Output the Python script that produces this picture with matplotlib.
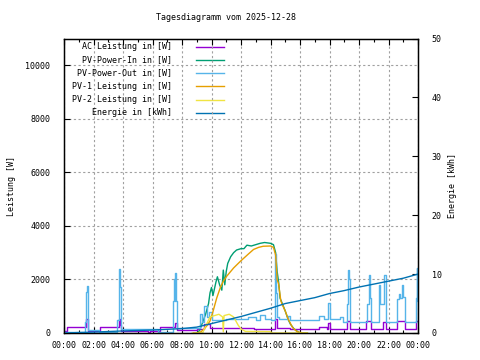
import numpy as np
import matplotlib
matplotlib.use('Agg')
import matplotlib.pyplot as plt
from matplotlib.lines import Line2D
from matplotlib.ticker import MultipleLocator

plt.rcParams['font.family'] = ['DejaVu Sans Mono']
plt.rcParams['font.size'] = 6

# ---- data (hours of day, W / kWh) ----
t_ac = [0, 0.2, 1.5, 1.6, 1.65, 2.45, 3.7, 3.8, 3.85, 5.7, 5.8, 6.5, 7.5, 7.65, 9.0, 9.5, 9.9,
        12.9, 14.3, 14.45, 15.35, 17.3, 17.8, 17.9, 18.0, 19.2, 19.4, 20.5, 20.8, 21.6, 21.8,
        22.6, 23.1, 23.85, 24]
v_ac = [70, 220, 520, 300, 70, 220, 520, 300, 90, 20, 90, 220, 380, 110, 150, 330, 190,
        150, 520, 200, 150, 220, 140, 380, 140, 450, 140, 450, 140, 420, 140,
        450, 140, 450, 450]

t_out = [0, 1.45, 1.5, 1.55, 1.6, 1.65, 2.4, 3.6, 3.7, 3.75, 3.8, 3.85, 6.4, 7.4, 7.45, 7.5,
         7.55, 7.6, 7.65, 9.0, 9.2, 9.35, 9.5, 9.7, 9.85, 10.0, 11.0, 12.0, 12.5, 13.0, 13.3,
         13.6, 14.0, 14.3, 14.35, 14.45, 14.6, 15.2, 15.35, 17.3, 17.6, 17.9, 18.0, 18.7,
         18.9, 19.2, 19.25, 19.3, 19.4, 20.55, 20.65, 20.75, 20.8, 21.35, 21.45, 21.7,
         21.8, 22.6, 22.7, 22.8, 22.9, 23.0, 23.1, 23.2, 23.85, 23.9, 23.95, 24]
v_out = [20, 400, 1550, 1750, 400, 100, 20, 500, 1750, 2400, 1700, 140, 30, 1200, 2000, 1200,
         2250, 1200, 175, 200, 700, 400, 1000, 600, 800, 480, 520, 520, 600, 500, 680,
         540, 480, 2940, 1500, 600, 520, 650, 470, 630, 520, 1130, 520, 600,
         420, 1100, 2370, 2000, 420, 1100, 2160, 1300, 420, 1800, 1100, 2160,
         420, 1270, 1450, 1300, 1800, 1350, 420, 420, 1300, 2430, 1200, 420]

t_in = [8.8, 9.0, 9.2, 9.4, 9.6, 9.8, 9.9, 10.0, 10.1, 10.3, 10.4, 10.55, 10.7, 10.8, 10.9,
        11.0, 11.1, 11.3, 11.5, 11.7, 12.0, 12.2, 12.4, 12.7, 13.0, 13.3, 13.6, 14.0, 14.2,
        14.35, 14.45, 14.55, 14.65, 14.8, 15.0, 15.2, 15.35, 15.6, 15.8, 16.0, 16.5]
v_in = [0, 0, 100, 400, 700, 1100, 1500, 1700, 1400, 1900, 2100, 1800, 1600, 2350, 1800,
        2300, 2600, 2850, 3000, 3100, 3150, 3150, 3280, 3250, 3300, 3350, 3380, 3350, 3300,
        3000, 2300, 1900, 1300, 1100, 820, 500, 330, 150, 70, 0, 0]

t_pv1 = [8.8, 9.0, 9.3, 9.5, 9.7, 9.9, 10.1, 10.35, 10.6, 10.8, 11.0, 11.5, 12.0, 12.2, 12.5,
         12.85, 13.2, 13.5, 14.0, 14.2, 14.35, 14.45, 14.55, 14.7, 14.85, 15.0, 15.2, 15.5,
         15.8, 16.2, 16.5]
v_pv1 = [0, 0, 50, 150, 280, 450, 800, 1300, 1700, 1930, 2100, 2430, 2700, 2800, 2950,
         3120, 3200, 3240, 3250, 3200, 2900, 2000, 1830, 1200, 1000, 820, 520, 200,
         50, 0, 0]

t_pv2 = [8.7, 9.4, 9.55, 9.9, 10.2, 10.5, 10.75, 10.8, 10.85, 11.2, 11.5, 11.8, 12.0, 12.3,
         14.0, 14.1, 16.5]
v_pv2 = [0, 0, 200, 600, 650, 700, 600, 50, 650, 700, 600, 300, 150, 60, 50, 0, 0]

t_en = [0, 2, 4, 6, 8, 9, 10, 11, 12, 13, 14, 15, 16, 17, 18, 19, 20, 21, 22, 23, 24]
v_en = [0, 0.15, 0.35, 0.5, 0.75, 1.0, 1.6, 2.2, 2.8, 3.5, 4.2, 5.0, 5.5, 6.0, 6.7, 7.2,
        7.8, 8.3, 8.8, 9.3, 10.0]

xticks = list(range(0, 25, 2))
xlabels = ['%02d:00' % (h % 24) for h in xticks]

c_ac = '#9400d3'
c_in = '#009e73'
c_out = '#56b4e9'
c_pv1 = '#e69f00'
c_pv2 = '#f0e442'
c_en = '#0072b2'
lw = 1.0

fig = plt.figure(figsize=(4.8, 3.6), dpi=100)
ax = fig.add_axes([64/480., 1-333/360., (418-64)/480., (333-38.5)/360.])
ax2 = ax.twinx()
ax.set_zorder(2)
ax.patch.set_visible(False)

ax.plot(t_ac, v_ac, color=c_ac, lw=lw, drawstyle='steps-post')
ax.plot(t_in, v_in, color=c_in, lw=lw)
ax.plot(t_out, v_out, color=c_out, lw=lw, drawstyle='steps-post')
ax.plot(t_pv1, v_pv1, color=c_pv1, lw=lw)
ax.plot(t_pv2, v_pv2, color=c_pv2, lw=lw)
ax2.plot(t_en, v_en, color=c_en, lw=lw)
# energy on top of the power lines
ax2.set_zorder(3)
ax2.patch.set_visible(False)

ax.set_xlim(0, 24)
ax.set_ylim(0, 11000)
ax2.set_ylim(0, 50)
ax.set_xticks(xticks)
ax.set_xticklabels(xlabels)
ax.xaxis.set_minor_locator(MultipleLocator(1))
ax.set_yticks(range(0, 11000, 2000))
ax2.set_yticks(range(0, 51, 10))

ax.tick_params(axis='x', which='both', direction='in', top=True, pad=6)
ax.tick_params(axis='x', which='major', length=4, width=0.8)
ax.tick_params(axis='x', which='minor', length=2, width=0.8)
ax.tick_params(axis='y', direction='in', length=4, width=0.8, pad=10)
ax2.tick_params(axis='y', direction='in', length=4, width=0.8, pad=10)
for sp in ax.spines.values():
    sp.set_linewidth(1.0)
ax.grid(True, color='#a0a0a0', ls=(0, (2, 2.2)), lw=0.8)

ax.set_ylabel('Leistung [W]')
ax2.set_ylabel('Energie [kWh]')
ax.yaxis.set_label_coords(-0.136, 0.5)
ax2.yaxis.set_label_coords(1.086, 0.5)

fig.text(226/480., 1-17/360., 'Tagesdiagramm vom 2025-12-28', ha='center', va='center')

# legend like gnuplot: text right aligned, sample to the right
names = ['AC Leistung in [W]', 'PV-Power-In in [W]', 'PV-Power-Out in [W]',
         'PV-1 Leistung in [W]', 'PV-2 Leistung in [W]', 'Energie in [kWh]']
cols = [c_ac, c_in, c_out, c_pv1, c_pv2, c_en]
for i, (n, c) in enumerate(zip(names, cols)):
    y = 1 - (46.7 + 13.2*i)/360.
    fig.text(172/480., y, n, ha='right', va='center')
    fig.add_artist(Line2D([196/480., 224/480.], [y, y], color=c, lw=lw))

fig.savefig('out.png', dpi=100)
